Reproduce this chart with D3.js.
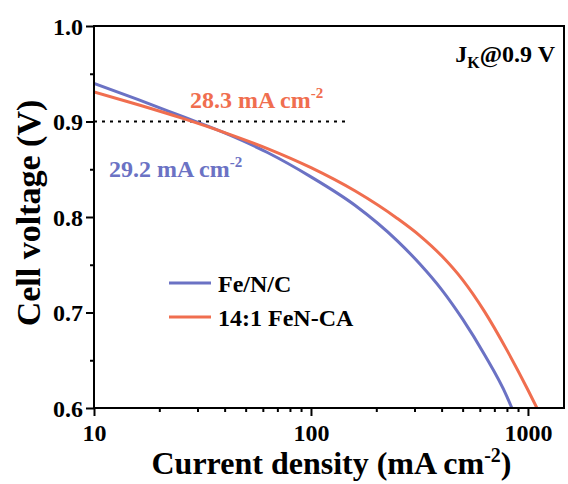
<!DOCTYPE html>
<html><head><meta charset="utf-8">
<script src="https://cdn.jsdelivr.net/npm/d3@7"></script>
<style>body{margin:0;background:#fff}svg{display:block}text{font-family:"Liberation Serif","Times New Roman",serif;font-weight:bold}</style>
</head><body>
<script>
const fenc = [[10,0.940],[16,0.923],[25,0.906],[40,0.888],[63,0.8675],[100,0.842],[160,0.812],[250,0.775],[320,0.750],[400,0.724],[500,0.693],[630,0.656],[800,0.612],[843,0.600]];
const fenca = [[10,0.931],[16,0.9175],[25,0.904],[40,0.8884],[63,0.8717],[100,0.8517],[160,0.8272],[250,0.7985],[320,0.7798],[400,0.7594],[500,0.7342],[630,0.7012],[800,0.6606],[1000,0.6189],[1100,0.600]];
const seriesNames = ["Fe/N/C","14:1 FeN-CA"];
const xTicks = [10,100,1000];
const yTicks = [0.6,0.7,0.8,0.9,1.0];
const yMinor = [0.65,0.75,0.85,0.95];
const xMinor = [20,30,40,50,60,70,80,90,200,300,400,500,600,700,800,900];
const refV = 0.9, refEnd = 145;
const jkLabels = ["28.3 mA cm","29.2 mA cm"];

const W=568,H=484, L=94, R=564, T=26, B=408;
const colors=["#6b72c4","#f06e4f"];
const FF='"Liberation Serif","Times New Roman",serif';
const svg=d3.select("body").append("svg").attr("width",W).attr("height",H);
const x=d3.scaleLog().domain([10,1466]).range([L,R]);
const y=d3.scaleLinear().domain([0.6,1.0]).range([B,T]);

svg.append("clipPath").attr("id","c").append("rect").attr("x",L).attr("y",T).attr("width",R-L).attr("height",B-T);

svg.append("line").attr("x1",x(10)).attr("x2",x(refEnd)).attr("y1",y(refV)).attr("y2",y(refV))
  .attr("stroke","#000").attr("stroke-width",2).attr("stroke-dasharray","3,5");

const line=d3.line().x(d=>x(d[0])).y(d=>y(d[1])).curve(d3.curveMonotoneX);
[fenc,fenca].forEach((s,i)=>{
  svg.append("path").datum(s).attr("d",line).attr("fill","none").attr("stroke",colors[i])
    .attr("stroke-width",3).attr("clip-path","url(#c)");
});

const xa=svg.append("g").attr("transform",`translate(0,${B})`).call(d3.axisBottom(x).tickValues(xTicks).tickFormat(d3.format("d")).tickSize(8).tickPadding(3));
const xm=svg.append("g").attr("transform",`translate(0,${B})`).call(d3.axisBottom(x).tickValues(xMinor).tickFormat("").tickSize(4));
const ya=svg.append("g").attr("transform",`translate(${L},0)`).call(d3.axisLeft(y).tickValues(yTicks).tickFormat(d3.format(".1f")).tickSize(8).tickPadding(3));
const ym=svg.append("g").attr("transform",`translate(${L},0)`).call(d3.axisLeft(y).tickValues(yMinor).tickFormat("").tickSize(4));
[xa,xm,ya,ym].forEach(g=>{g.attr("font-family",FF).attr("font-size",24);
  g.select(".domain").remove();g.selectAll("line").attr("stroke","#000").attr("stroke-width",2);
  g.selectAll("text").attr("fill","#000").style("font-size","24px").style("font-family",FF).style("font-weight","bold");});
xa.selectAll("text").attr("dy","0.92em");
ya.selectAll("text").attr("dy","0.34em");

svg.append("rect").attr("x",L).attr("y",T).attr("width",R-L).attr("height",B-T).attr("fill","none").attr("stroke","#000").attr("stroke-width",2);

const xt=svg.append("text").attr("x",(148+515)/2).attr("y",474).attr("text-anchor","middle").style("font-size","32px");
xt.append("tspan").text("Current density (mA cm");
xt.append("tspan").text("-2").attr("dy","-12").style("font-size","20px");
xt.append("tspan").text(")").attr("dy","12");

svg.append("text").attr("transform",`translate(40,213) rotate(-90)`).attr("text-anchor","middle").style("font-size","34px").text("Cell voltage (V)");

function ann(txt,xp,yp,col){
  const t=svg.append("text").attr("x",xp).attr("y",yp).attr("fill",col).style("font-size","24px");
  t.append("tspan").text(txt);
  t.append("tspan").text("-2").attr("dy","-10").style("font-size","15px");
}
ann(jkLabels[0],190,108,colors[1]);
ann(jkLabels[1],109,177,colors[0]);

const jk=svg.append("text").attr("x",555).attr("y",62).attr("text-anchor","end").style("font-size","24px");
jk.append("tspan").text("J");
jk.append("tspan").text("K").attr("dy","6").style("font-size","16px");
jk.append("tspan").text("@0.9 V").attr("dy","-6");

seriesNames.forEach((n,i)=>{
  const yy=283+i*34;
  svg.append("line").attr("x1",169).attr("x2",211).attr("y1",yy).attr("y2",yy).attr("stroke",colors[i]).attr("stroke-width",3);
  svg.append("text").attr("x",218).attr("y",yy+9).style("font-size","24px").text(n);
});
</script>
</body></html>
